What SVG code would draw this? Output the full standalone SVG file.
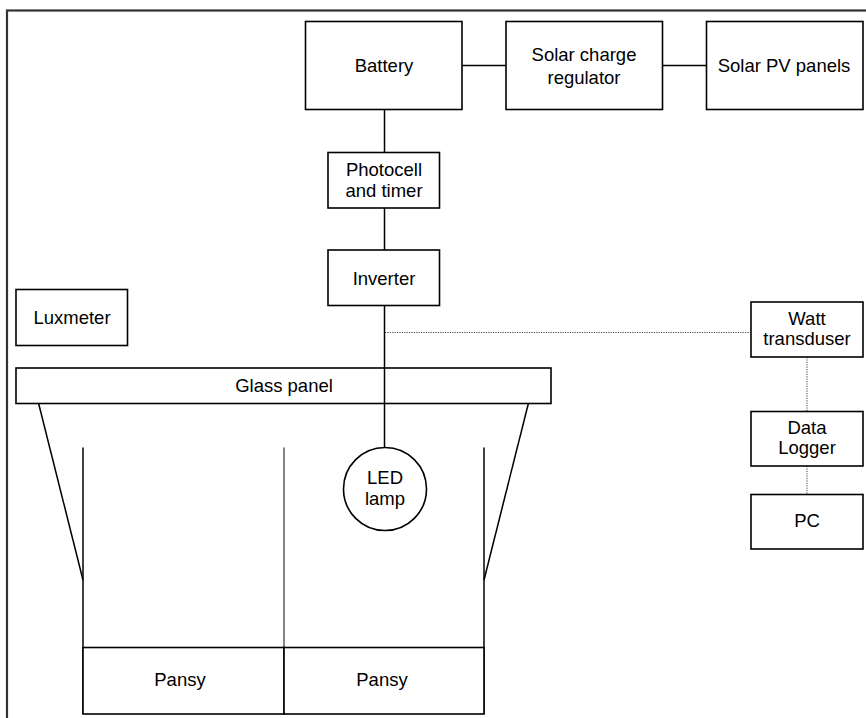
<svg xmlns="http://www.w3.org/2000/svg" width="866" height="718" viewBox="0 0 866 718">
<style>
.box{fill:#fff;stroke:#000;stroke-width:1.6}
.t{font-family:"Liberation Sans",Arial,sans-serif;font-size:18.5px;fill:#000;text-anchor:middle}
.ln{stroke:#000;stroke-width:1.5;fill:none}
.dot{stroke:#444;stroke-width:1;stroke-dasharray:1.2 1.2;fill:none}
</style>
<rect x="0" y="0" width="866" height="718" fill="#fff"/>
<rect x="7" y="10.5" width="880" height="730" fill="none" stroke="#333" stroke-width="2.2"/>
<g id="connectors">
<line class="ln" x1="462" y1="65.5" x2="506" y2="65.5"/>
<line class="ln" x1="662" y1="65.5" x2="707" y2="65.5"/>
<line class="ln" x1="384.5" y1="109" x2="384.5" y2="152"/>
<line class="ln" x1="384.5" y1="208" x2="384.5" y2="250"/>
<line class="dot" x1="385" y1="332.5" x2="751" y2="332.5"/>
<line class="dot" x1="807" y1="357" x2="807" y2="411"/>
<line class="dot" x1="807" y1="466" x2="807" y2="494"/>
</g>
<g id="battery"><rect class="box" x="305.5" y="21.5" width="156.5" height="88"/><text class="t" x="384" y="72">Battery</text></g>
<g id="regulator"><rect class="box" x="506" y="21.5" width="156.5" height="88"/><text class="t" x="584" y="61">Solar charge</text><text class="t" x="584" y="84">regulator</text></g>
<g id="pv"><rect class="box" x="706.5" y="21.5" width="156.5" height="88"/><text class="t" x="784" y="72">Solar PV panels</text></g>
<g id="photocell"><rect class="box" x="328" y="152.5" width="111.5" height="55.5"/><text class="t" x="384" y="176">Photocell</text><text class="t" x="384" y="197">and timer</text></g>
<g id="inverter"><rect class="box" x="328" y="250" width="111.5" height="55.5"/><text class="t" x="384" y="284.5">Inverter</text></g>
<g id="luxmeter"><rect class="box" x="16" y="289.5" width="111.5" height="56"/><text class="t" x="72" y="324">Luxmeter</text></g>
<g id="enclosure">
<line class="ln" x1="38.5" y1="403" x2="83" y2="580"/>
<line class="ln" x1="528.5" y1="403" x2="484" y2="580"/>
<line class="ln" x1="83" y1="447.5" x2="83" y2="714"/>
<line class="ln" x1="484" y1="447.5" x2="484" y2="714"/>
<line x1="284" y1="447.5" x2="284" y2="648" stroke="#222" stroke-width="1.1"/>
</g>
<g id="glass"><rect class="box" x="16" y="368" width="535" height="35.5"/><text class="t" x="284" y="392">Glass panel</text></g>
<line class="ln" x1="384.5" y1="305.5" x2="384.5" y2="447.5"/>
<g id="led"><circle class="box" cx="385" cy="489" r="41.5"/><text class="t" x="385" y="483.5">LED</text><text class="t" x="385" y="504.5">lamp</text></g>
<g id="pansy1"><rect class="box" x="83" y="647.5" width="201" height="66.5"/><text class="t" x="180" y="686">Pansy</text></g>
<g id="pansy2"><rect class="box" x="284" y="647.5" width="200" height="66.5"/><text class="t" x="382" y="686">Pansy</text></g>
<g id="watt"><rect class="box" x="751" y="302" width="112" height="55"/><text class="t" x="807" y="324.5">Watt</text><text class="t" x="807" y="344.5">transduser</text></g>
<g id="logger"><rect class="box" x="751" y="411.5" width="112" height="54.5"/><text class="t" x="807" y="434">Data</text><text class="t" x="807" y="454">Logger</text></g>
<g id="pc"><rect class="box" x="751" y="494.5" width="112" height="54.5"/><text class="t" x="807" y="527">PC</text></g>
</svg>
